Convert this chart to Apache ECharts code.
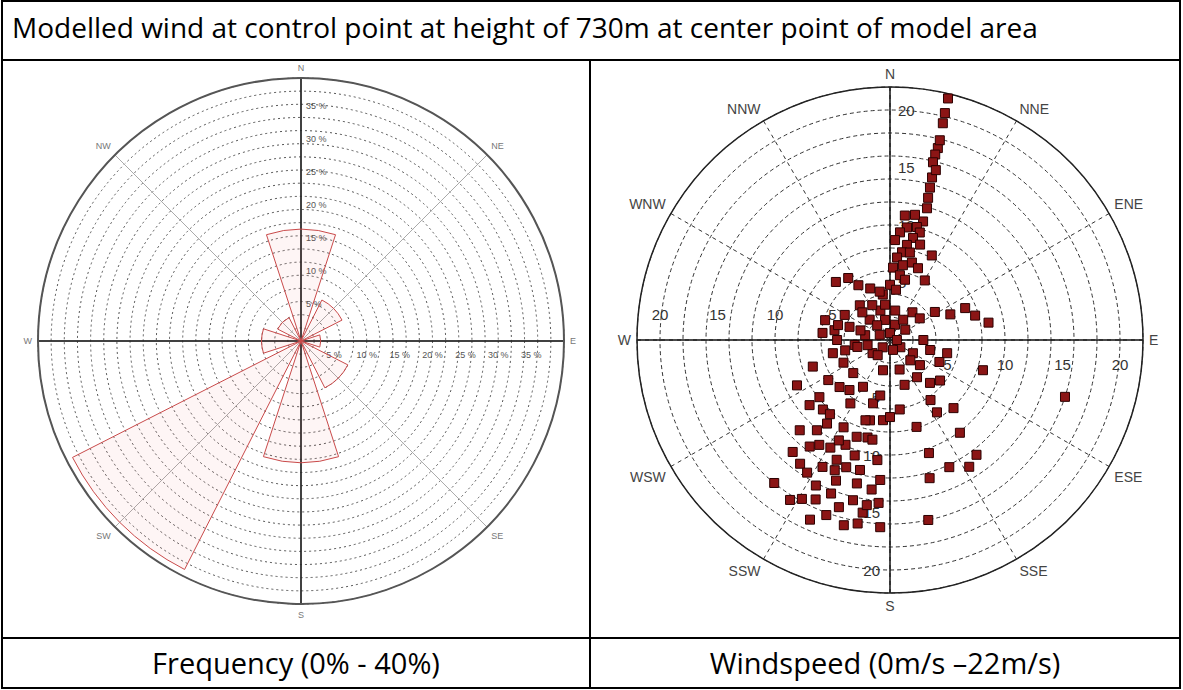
<!DOCTYPE html>
<html>
<head>
<meta charset="utf-8">
<title>Modelled wind at control point</title>
<script src="https://cdn.jsdelivr.net/npm/echarts@6/dist/echarts.min.js"></script>
<style>
  html, body { margin: 0; padding: 0; background: #fff; }
  #chart { position: absolute; left: 0; top: 0; width: 1183px; height: 690px; }
  .line { position: absolute; background: #000; }
  .txt {
    position: absolute;
    font-family: "Open Sans", "Noto Sans", sans-serif;
    font-size: 29px;
    line-height: 36px;
    color: #000;
    white-space: nowrap;
  }
</style>
</head>
<body>
<div id="chart"></div>

<!-- table frame -->
<div class="line" style="left:1px;top:0;width:1180px;height:2px"></div>
<div class="line" style="left:1px;top:687px;width:1180px;height:2px"></div>
<div class="line" style="left:1px;top:0;width:2px;height:689px"></div>
<div class="line" style="left:1179px;top:0;width:2px;height:689px"></div>
<div class="line" style="left:1px;top:59px;width:1180px;height:2px"></div>
<div class="line" style="left:1px;top:637px;width:1180px;height:2px"></div>
<div class="line" style="left:589px;top:59px;width:2px;height:630px"></div>

<div class="txt" style="left:12px;top:9px;font-size:28px">Modelled wind at control point at height of 730m at center point of model area</div>
<div class="txt" style="left:3px;width:586px;top:645px;text-align:center">Frequency (0% - 40%)</div>
<div class="txt" style="left:591px;width:588px;top:645px;text-align:center">Windspeed (0m/s –22m/s)</div>

<script>
// frequency rose (left)
const freqDirs = ['N', 'NE', 'E', 'SE', 'S', 'SW', 'W', 'NW'];
const freqValues = [17, 7, 3, 8, 18.5, 39, 6, 4];
const freqTicks = [5, 10, 15, 20, 25, 30, 35];

// wind speed scatter (right)
const windLabels = ['N', 'NNE', 'ENE', 'E', 'ESE', 'SSE', 'S', 'SSW', 'WSW', 'W', 'WNW', 'NNW'];
const speedTicks = [5, 10, 15, 20];
const windSpeed = [
  21.6, 20.3, 19.4, 17.2, 16.6, 15.9, 14.6, 13.7, 12.8, 11.9,
  10.7, 10.1, 9.9, 9.4, 9.7, 9.1, 8.4, 7.7, 7.8, 7.2,
  6.6, 6.3, 5.7, 5.4, 6.0, 4.8, 4.0, 17.9, 15.3, 3.1,
  3.2, 4.6, 5.7, 7.1, 7.7, 8.7, 6.9, 6.5, 5.5, 4.8,
  4.3, 5.9, 4.9, 4.5, 3.7, 4.0, 2.5, 2.7, 2.2, 3.1,
  5.9, 4.6, 2.9, 1.9, 0.9, 1.4, 1.6, 7.1, 9.0, 7.9,
  8.4, 9.1, 10.1, 11.6, 12.9, 13.3, 13.6, 12.5, 11.4, 11.7,
  12.8, 13.1, 16.0, 15.8, 15.3, 14.3, 15.2, 14.3, 16.2, 16.3,
  15.2, 7.2, 8.7, 10.5, 6.0, 6.5, 8.6, 8.9, 5.1, 4.5,
  4.3, 4.7, 5.7, 2.7, 7.0, 10.7, 13.1, 14.2, 0.6, 1.1,
  2.3, 3.6, 5.1, 2.7, 4.0, 5.1, 5.6, 8.5, 16.0, 8.1,
  6.3, 7.5, 7.9, 10.1, 12.5, 10.4, 12.2, 13.0, 12.5, 6.7,
  6.1, 14.2, 16.0, 0.6, 2.9, 2.5, 1.8, 2.6, 1.0, 2.1,
  3.4, 3.4, 3.1, 1.7, 2.7, 2.0, 1.7, 0.9, 4.0, 4.7,
  11.1, 10.9, 8.7, 8.7, 7.0, 6.7, 4.4, 8.2,
  9.0, 8.3, 9.9, 11.0, 12.3, 11.6, 17.1, 16.2, 16.6, 14.5,
  5.6, 7.3, 10.5, 12.2, 11.1, 16.4, 9.8, 8.8, 4.9, 6.4,
  3.4, 4.1, 4.7
];
const windDir = [
  13.5, 13.6, 13.7, 14.0, 13.7, 13.6, 14.5, 14.7, 15.0, 15.7,
  15.6, 13.4, 8.6, 5.3, 15.5, 12.7, 10.1, 7.8, 12.8, 4.9,
  9.8, 2.4, 8.7, 14.0, 30.3, 0, 351, 14.0, 15.1, 39,
  54, 58, 67, 67, 74, 80, 317, 326, 330, 339,
  348, 287, 280, 299, 288, 319, 315, 342, 281, 262,
  276, 270, 258, 233, 225, 18, 56, 251, 244, 231,
  224, 217, 219, 217, 221, 216, 212, 208, 204, 199,
  193, 187, 219, 209, 205, 201, 197, 193, 190, 183,
  189, 194, 193, 186, 227, 212, 208, 199, 257, 244,
  228, 210, 195, 193, 185, 209, 201, 207, 0, 125,
  120, 104, 103, 162, 144, 137, 129, 108, 108, 137,
  146, 147, 163, 143, 143, 161, 155, 148, 164, 180,
  172, 184, 168, 90, 90, 135, 346, 10, 297, 33,
  315, 333, 352, 319, 288, 257, 219, 163, 257, 286,
  11.3, 6.8, 2.9, 17.5, 15.8, 21.3, 6.8, 26.3,
  231, 219, 203, 214, 203, 193, 204, 200, 194, 188,
  219, 197, 197, 184, 225, 212, 207, 190, 190, 237,
  130, 162, 114
];

const LEFT = { center: [301, 341], radius: 263 };
const RIGHT = { center: [890, 340], radius: 253 };
const FONT = 'Liberation Sans';

const polar = [];
const angleAxis = [];
const radiusAxis = [];
function addPolar(geo, angle, radius) {
  const i = polar.length;
  polar.push({ center: geo.center, radius: geo.radius });
  angleAxis.push(Object.assign({ polarIndex: i }, angle));
  radiusAxis.push(Object.assign({ polarIndex: i }, radius));
  return i;
}
function hiddenAngle(start) {
  return { type: 'value', min: 0, max: 360, startAngle: start, clockwise: true, show: false };
}
function labelRadius(max, ticks, fmt, label) {
  return {
    type: 'value', min: 0, max: max, interval: 5,
    axisLine: { show: false }, axisTick: { show: false }, splitLine: { show: false },
    axisLabel: Object.assign({
      fontFamily: FONT,
      formatter: function (v) { return ticks.indexOf(v) >= 0 ? fmt(v) : ''; }
    }, label)
  };
}
const pct = v => v + ' %';
const num = v => String(v);

// ---- left: frequency rose ----
addPolar(LEFT, {
  type: 'value', min: 0, max: 360, interval: 45, startAngle: 90, clockwise: true,
  axisLine: { lineStyle: { color: '#555', width: 2 } },
  axisTick: { show: false },
  axisLabel: {
    margin: 6, color: '#777', fontSize: 9, fontFamily: FONT,
    formatter: v => freqDirs[v / 45] || ''
  },
  splitLine: { show: true, lineStyle: { color: '#aaa', width: 1 } }
}, {
  type: 'value', min: 0, max: 40, interval: 2,
  axisLine: { show: false }, axisTick: { show: false }, axisLabel: { show: false },
  splitLine: { show: true, lineStyle: { color: '#555', width: 1, type: [2, 3] } }
});
const roseIndex = addPolar(LEFT, {
  type: 'category', data: freqDirs, startAngle: 112.5, clockwise: true, show: false
}, { type: 'value', min: 0, max: 40, show: false });
addPolar(LEFT, {
  type: 'value', min: 0, max: 360, interval: 90, startAngle: 90, clockwise: true,
  axisLine: { show: false }, axisTick: { show: false }, axisLabel: { show: false },
  splitLine: { show: true, lineStyle: { color: '#111', width: 1.5 } }
}, labelRadius(40, freqTicks, pct, { margin: -5, align: 'left', verticalAlign: 'bottom', fontSize: 9, color: '#555' }));
addPolar(LEFT, hiddenAngle(0),
  labelRadius(40, freqTicks, pct, { margin: -9, align: 'center', verticalAlign: 'top', fontSize: 9, color: '#555' }));

// ---- right: wind speed scatter ----
addPolar(RIGHT, {
  type: 'value', min: 0, max: 360, interval: 30, startAngle: 90, clockwise: true,
  axisLine: { lineStyle: { color: '#222', width: 1.5 } },
  axisTick: { show: false },
  axisLabel: {
    margin: 6, color: '#444', fontSize: 14, fontFamily: FONT,
    formatter: v => windLabels[v / 30] || ''
  },
  splitLine: { show: true, lineStyle: { color: '#333', width: 1, type: [4, 4] } }
}, {
  type: 'value', min: 0, max: 22, interval: 2,
  axisLine: { show: false }, axisTick: { show: false }, axisLabel: { show: false },
  splitLine: { show: true, lineStyle: { color: '#333', width: 1, type: [4, 3] } }
});
const speedIndex = addPolar(RIGHT, {
  type: 'value', min: 0, max: 360, interval: 90, startAngle: 90, clockwise: true,
  axisLine: { show: false }, axisTick: { show: false }, axisLabel: { show: false },
  splitLine: { show: true, lineStyle: { color: '#111', width: 1.5 } }
}, labelRadius(22, speedTicks, num, { margin: -8, align: 'left', verticalAlign: 'middle', fontSize: 15, color: '#333' }));
addPolar(RIGHT, hiddenAngle(0),
  labelRadius(22, speedTicks, num, { margin: -17, align: 'center', verticalAlign: 'top', fontSize: 15, color: '#333' }));
addPolar(RIGHT, hiddenAngle(270),
  labelRadius(22, speedTicks, num, { margin: -10, align: 'right', verticalAlign: 'middle', fontSize: 15, color: '#333' }));
addPolar(RIGHT, hiddenAngle(180),
  labelRadius(22, speedTicks, num, { margin: -18, align: 'center', verticalAlign: 'bottom', fontSize: 15, color: '#333' }));

const chart = echarts.init(document.getElementById('chart'), null, { renderer: 'svg' });
chart.setOption({
  animation: false,
  polar: polar,
  angleAxis: angleAxis,
  radiusAxis: radiusAxis,
  series: [
    {
      name: 'Frequency',
      type: 'bar',
      coordinateSystem: 'polar',
      polarIndex: roseIndex,
      data: freqValues,
      barCategoryGap: '20%',
      itemStyle: { color: 'rgba(230,80,80,0.06)', borderColor: '#c94a4a', borderWidth: 1 },
      z: 3
    },
    {
      name: 'Windspeed',
      type: 'scatter',
      coordinateSystem: 'polar',
      polarIndex: speedIndex,
      data: windSpeed.map((s, i) => [s, windDir[i]]),
      symbol: 'rect',
      symbolSize: 9,
      itemStyle: { color: '#8b1515', borderColor: '#2b0000', borderWidth: 1, opacity: 1 },
      z: 3
    }
  ]
});
</script>
</body>
</html>
